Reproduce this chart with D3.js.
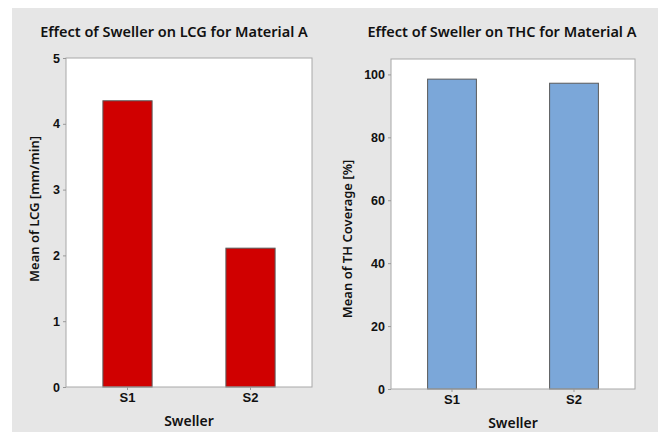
<!DOCTYPE html>
<html>
<head>
<meta charset="utf-8">
<script src="https://cdn.jsdelivr.net/npm/d3@7"></script>
<style>
  body { margin: 0; background: #fff; }
  svg { display: block; font-family: "Noto Sans", "Open Sans", sans-serif; }
  .title { font-size: 14.5px; font-weight: 600; fill: #111; }
  .xTitle { font-size: 14px; font-weight: 600; fill: #111; }
  .yTitle { font-size: 13px; font-weight: 600; fill: #111; }
  .yAxis .tick text { font-size: 12.5px; font-weight: 600; fill: #111; }
  .xAxis .tick text { font-size: 13px; font-weight: 600; fill: #111; }
</style>
</head>
<body>
<script>
(function (){

    //chart data
    var swellers = ["S1", "S2"];
    var lcgMeans = [4.35, 2.11];
    var thcMeans = [98.5, 97.2];
    var lcgTicks = [0, 1, 2, 3, 4, 5];
    var thcTicks = [0, 20, 40, 60, 80, 100];

    var width = 658,
        height = 432;

    var svg = d3.select("body")
        .append("svg")
        .attr("width", width)
        .attr("height", height);

    //gray figure background
    svg.append("rect")
        .attr("x", 12)
        .attr("y", 8)
        .attr("width", width - 12)
        .attr("height", height - 8)
        .attr("fill", "#e6e6e6");

    drawPanel({
        title: "Effect of Sweller on LCG for Material A",
        titleX: 174,
        yLabel: "Mean of LCG [mm/min]",
        yLabelX: 39, yLabelY: 209,
        left: 66, right: 312, top: 58, bottom: 387,
        yMax: 5,
        values: lcgMeans,
        ticks: lcgTicks,
        fill: "#d00000"
    });

    drawPanel({
        title: "Effect of Sweller on THC for Material A",
        titleX: 502,
        yLabel: "Mean of TH Coverage [%]",
        yLabelX: 352, yLabelY: 239,
        left: 391, right: 635, top: 59, bottom: 389,
        yMax: 104.9,
        values: thcMeans,
        ticks: thcTicks,
        fill: "#7ba7d9"
    });

    function drawPanel(cfg){
        var w = cfg.right - cfg.left,
            h = cfg.bottom - cfg.top;

        var g = svg.append("g")
            .attr("transform", "translate(" + cfg.left + "," + cfg.top + ")");

        var x = d3.scaleBand()
            .domain(swellers)
            .range([0, w])
            .paddingInner(0.6)
            .paddingOuter(0.3);

        var y = d3.scaleLinear()
            .domain([0, cfg.yMax])
            .range([h, 0]);

        //plot area
        g.append("rect")
            .attr("width", w)
            .attr("height", h)
            .attr("fill", "#fff");

        //bars
        g.selectAll(".bar")
            .data(swellers)
            .enter()
            .append("rect")
            .attr("class", "bar")
            .attr("x", function(d){ return x(d); })
            .attr("width", x.bandwidth())
            .attr("y", function(d, i){ return y(cfg.values[i]); })
            .attr("height", function(d, i){ return h - y(cfg.values[i]); })
            .attr("fill", cfg.fill)
            .attr("stroke", "#5a5a5a")
            .attr("stroke-width", 1);

        //frame
        g.append("rect")
            .attr("width", w)
            .attr("height", h)
            .attr("fill", "none")
            .attr("stroke", "#a8a8a8")
            .attr("stroke-width", 1);

        //y axis
        var yAxis = g.append("g")
            .attr("class", "yAxis")
            .call(d3.axisLeft(y)
                .tickValues(cfg.ticks)
                .tickFormat(d3.format("d"))
                .tickSize(3).tickPadding(3).tickSizeOuter(0));
        yAxis.select(".domain").remove();
        yAxis.selectAll("line").attr("stroke", "#999");

        //x axis
        var xAxis = g.append("g")
            .attr("class", "xAxis")
            .attr("transform", "translate(0," + h + ")")
            .call(d3.axisBottom(x).tickSize(3).tickPadding(3).tickSizeOuter(0));
        xAxis.select(".domain").remove();
        xAxis.selectAll("line").attr("stroke", "#999");

        //titles
        svg.append("text")
            .attr("class", "title")
            .attr("x", cfg.titleX)
            .attr("y", 37)
            .attr("text-anchor", "middle")
            .text(cfg.title);

        svg.append("text")
            .attr("class", "xTitle")
            .attr("x", cfg.left + w / 2)
            .attr("y", cfg.bottom + 39)
            .attr("text-anchor", "middle")
            .text("Sweller");

        svg.append("text")
            .attr("class", "yTitle")
            .attr("transform", "translate(" + cfg.yLabelX + "," + cfg.yLabelY + ") rotate(-90)")
            .attr("text-anchor", "middle")
            .text(cfg.yLabel);
    }

})();
</script>
</body>
</html>
